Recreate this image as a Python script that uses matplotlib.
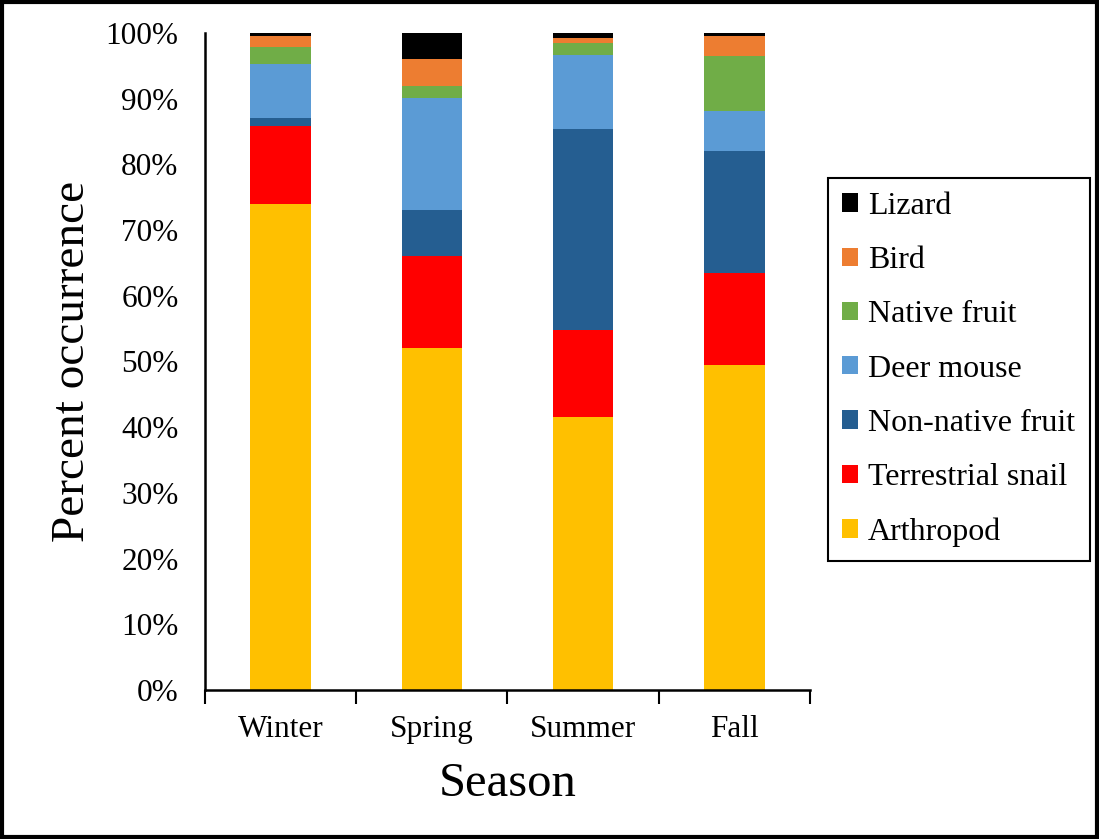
"""Seasonal diet composition as a 100% stacked bar chart."""

import matplotlib
matplotlib.use("Agg")
import matplotlib.pyplot as plt
from matplotlib.patches import Rectangle
from matplotlib.ticker import PercentFormatter

plt.rcParams["font.family"] = ["Liberation Serif", "DejaVu Serif"]

seasons = ["Winter", "Spring", "Summer", "Fall"]

# bottom -> top of each stack, percent occurrence
arthropod = [74.0, 52.0, 41.5, 49.5]
terrestrial_snail = [11.8, 14.1, 13.3, 13.9]
non_native_fruit = [1.2, 7.0, 30.6, 18.7]
deer_mouse = [8.3, 17.0, 11.3, 6.0]
native_fruit = [2.6, 1.9, 1.7, 8.4]
bird = [1.6, 4.1, 0.8, 3.1]
lizard = [0.5, 3.9, 0.8, 0.4]

series = [
    ("Arthropod", arthropod, "#FFC000"),
    ("Terrestrial snail", terrestrial_snail, "#FF0000"),
    ("Non-native fruit", non_native_fruit, "#255E91"),
    ("Deer mouse", deer_mouse, "#5B9BD5"),
    ("Native fruit", native_fruit, "#70AD47"),
    ("Bird", bird, "#ED7D31"),
    ("Lizard", lizard, "#000000"),
]

fig = plt.figure(figsize=(10.99, 8.39), dpi=100)
ax = fig.add_axes([0.1865, 0.1776, 0.5505, 0.7831])

x = list(range(len(seasons)))
bottom = [0.0] * len(seasons)
handles = []
for name, vals, color in series:
    h = ax.bar(x, vals, width=0.4, bottom=bottom, color=color, label=name, linewidth=0)
    handles.append(h)
    bottom = [b + v for b, v in zip(bottom, vals)]

ax.set_xlim(-0.5, len(seasons) - 0.5)
ax.set_ylim(0, 100)
ax.set_yticks(range(0, 101, 10))
ax.yaxis.set_major_formatter(PercentFormatter(decimals=0))
ax.set_xticks(x)
ax.set_xticklabels(seasons)
ax.set_xticks([i - 0.5 for i in range(len(seasons) + 1)], minor=True)

ax.tick_params(axis="y", length=0, pad=19, labelsize=22.5)
ax.tick_params(axis="x", which="major", length=0, pad=18, labelsize=22.5)
ax.tick_params(axis="x", which="minor", length=10, width=1.5, direction="out")

for side in ("top", "right"):
    ax.spines[side].set_visible(False)
for side in ("left", "bottom"):
    ax.spines[side].set_linewidth(1.8)

ax.set_ylabel("Percent occurrence", fontsize=34, labelpad=8)
ax.set_xlabel("Season", fontsize=35, labelpad=13)

leg = ax.legend(handles[::-1], [s[0] for s in series][::-1],
                loc="upper left", bbox_to_anchor=(1.03, 0.78),
                fontsize=23, frameon=True, fancybox=False, edgecolor="black",
                framealpha=1, handlelength=0.5, handleheight=0.5, handletextpad=0.3,
                labelspacing=0.79, borderpad=0.45, borderaxespad=0)
leg.get_frame().set_linewidth(1.5)

# outer frame around the whole picture
fig.patches.append(Rectangle((0.002, 0.002), 0.996, 0.996, transform=fig.transFigure,
                             fill=False, edgecolor="black", linewidth=3))

fig.savefig("out.png", dpi=100)
